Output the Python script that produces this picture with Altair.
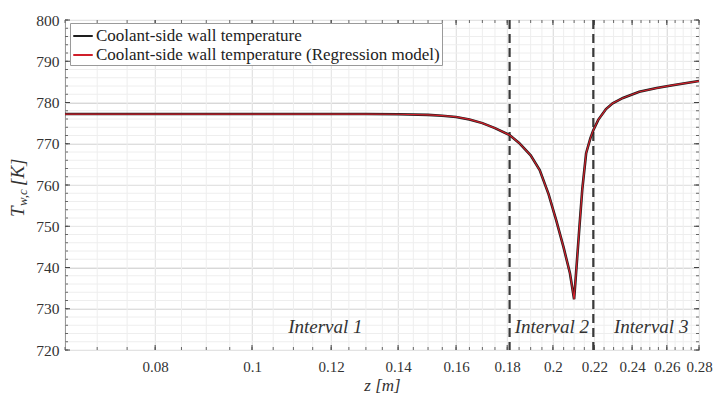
import altair as alt
import pandas as pd

# ---------------- data ----------------
z = [0.065, 0.07, 0.08, 0.09, 0.10, 0.11, 0.12, 0.13, 0.14, 0.15, 0.155, 0.16,
     0.165, 0.17, 0.175, 0.181, 0.185, 0.19, 0.194, 0.198, 0.2015, 0.205, 0.208,
     0.2093, 0.2100, 0.211, 0.2126, 0.214, 0.2159, 0.218, 0.2195, 0.222, 0.226,
     0.2295, 0.235, 0.244, 0.254, 0.2635, 0.28]
t_wall = [777.2, 777.2, 777.2, 777.2, 777.2, 777.2, 777.2, 777.2, 777.15, 777.0, 776.8, 776.5,
          775.9, 775.0, 773.8, 772.1, 770.2, 767.2, 763.6, 757.8, 751.5, 744.8, 738.6,
          734.5, 732.3, 739.0, 749.9, 759.0, 767.7, 771.3, 773.3, 775.8, 778.4,
          779.8, 781.1, 782.6, 783.5, 784.2, 785.2]
t_regression = [777.2, 777.2, 777.2, 777.2, 777.2, 777.2, 777.2, 777.2, 777.15, 777.0, 776.8, 776.5,
                775.9, 775.0, 773.8, 772.1, 770.2, 767.2, 763.6, 757.8, 751.5, 744.8, 738.6,
                734.5, 732.3, 739.0, 749.9, 759.0, 767.7, 771.3, 773.3, 775.8, 778.4,
                779.8, 781.1, 782.6, 783.5, 784.2, 785.2]

series_names = ["Coolant-side wall temperature",
                "Coolant-side wall temperature (Regression model)"]
series_colors = ["#1e1e1e", "#d01f2a"]

interval_bounds = [0.181, 0.2195]
interval_labels = ["Interval 1", "Interval 2", "Interval 3"]
interval_label_z = [0.1184, 0.1995, 0.2508]
interval_label_t = [725.6, 725.6, 725.6]

x_major = [0.08, 0.1, 0.12, 0.14, 0.16, 0.18, 0.2, 0.22, 0.24, 0.26, 0.28]
x_minor = [round(0.065 + 0.005 * i, 3) for i in range(0, 44)]
y_major = [720, 730, 740, 750, 760, 770, 780, 790, 800]
y_minor = [720 + 2 * i for i in range(0, 41)]

W, H = 634, 330
FONT = "Liberation Serif"

df = pd.DataFrame({
    "z": z * 2,
    "T": t_wall + t_regression,
    "series": [series_names[0]] * len(z) + [series_names[1]] * len(z),
})
df_xminor = pd.DataFrame({"z": x_minor})
df_xmajor = pd.DataFrame({"z": x_major})
df_yminor = pd.DataFrame({"T": y_minor})
df_ymajor = pd.DataFrame({"T": y_major})
df_bounds = pd.DataFrame({"z": interval_bounds})
df_labels = pd.DataFrame({"z": interval_label_z, "T": interval_label_t, "label": interval_labels})

xs = alt.Scale(type="log", domain=[0.065, 0.28], nice=False)
ys = alt.Scale(domain=[720, 800], nice=False, zero=False)
cs = alt.Scale(domain=series_names, range=series_colors)

x_axis = alt.Axis(
    values=x_major, format="~g", grid=True, gridColor="#d8d8d8", tickSize=0,
    domain=False, labelFont=FONT, labelFontSize=15, labelColor="#333",
    labelPadding=9, labelFlush=False, labelOverlap=False,
    title="z [m]", titleFont=FONT,
    titleFontSize=17, titleFontStyle="italic", titleFontWeight="normal",
    titleColor="#333", titlePadding=3)
y_axis = alt.Axis(
    values=y_major, grid=True, gridColor="#d8d8d8", tickSize=0, domain=False,
    labelFont=FONT, labelFontSize=15.5, labelColor="#333", labelPadding=6,
    labelFlush=False, title=None)


def X():
    return alt.X("z:Q", scale=xs, axis=x_axis)


def Y():
    return alt.Y("T:Q", scale=ys, axis=y_axis)


minor_vx = alt.Chart(df_xminor).mark_rule(color="#eeeeee", strokeWidth=1).encode(x=X())
minor_hy = alt.Chart(df_yminor).mark_rule(color="#eeeeee", strokeWidth=1).encode(y=Y())

# inward ticks (box style)
tick_bot_major = alt.Chart(df_xmajor).mark_rule(color="#444").encode(
    x=X(), y=alt.value(H), y2=alt.value(H - 5))
tick_top_major = alt.Chart(df_xmajor).mark_rule(color="#444").encode(
    x=X(), y=alt.value(0), y2=alt.value(5))
tick_bot_minor = alt.Chart(df_xminor).mark_rule(color="#666").encode(
    x=X(), y=alt.value(H), y2=alt.value(H - 3))
tick_top_minor = alt.Chart(df_xminor).mark_rule(color="#666").encode(
    x=X(), y=alt.value(0), y2=alt.value(3))
tick_left_major = alt.Chart(df_ymajor).mark_rule(color="#444").encode(
    y=Y(), x=alt.value(0), x2=alt.value(5))
tick_right_major = alt.Chart(df_ymajor).mark_rule(color="#444").encode(
    y=Y(), x=alt.value(W), x2=alt.value(W - 5))
tick_left_minor = alt.Chart(df_yminor).mark_rule(color="#666").encode(
    y=Y(), x=alt.value(0), x2=alt.value(3))
tick_right_minor = alt.Chart(df_yminor).mark_rule(color="#666").encode(
    y=Y(), x=alt.value(W), x2=alt.value(W - 3))

bounds = alt.Chart(df_bounds).mark_rule(color="#3a3a3a", strokeWidth=2.2, strokeDash=[9, 5]).encode(
    x=X())

legend = alt.Legend(
    title=None, orient="none", legendX=5, legendY=3, symbolType="stroke",
    symbolSize=380, symbolStrokeWidth=2, labelFont=FONT, labelFontSize=17,
    labelColor="#222", fillColor="white", strokeColor="#9a9a9a", padding=2,
    rowPadding=0, labelOffset=2, labelLimit=500)

line_black = alt.Chart(df).transform_filter(
    alt.datum.series == series_names[0]).mark_line(strokeWidth=2.6).encode(
    x=X(), y=Y(),
    color=alt.Color("series:N", scale=cs, legend=legend),
    order=alt.Order("z:Q"))
line_red = alt.Chart(df).transform_filter(
    alt.datum.series == series_names[1]).mark_line(strokeWidth=1.2).encode(
    x=X(), y=Y(),
    color=alt.Color("series:N", scale=cs, legend=legend),
    order=alt.Order("z:Q"))

labels = alt.Chart(df_labels).mark_text(
    font=FONT, fontSize=19, fontStyle="italic", color="#333", baseline="middle").encode(
    x=X(), y=Y(), text="label:N")

# y-axis title with subscript
ytitle_T = alt.Chart(df_ymajor.head(1)).mark_text(
    text="T", font=FONT, fontSize=19, fontStyle="italic", color="#333",
    angle=270, align="left", baseline="middle").encode(x=alt.value(-47), y=alt.value(197))
ytitle_sub = alt.Chart(df_ymajor.head(1)).mark_text(
    text="w,c", font=FONT, fontSize=13, fontStyle="italic", color="#333",
    angle=270, align="left", baseline="middle").encode(x=alt.value(-42), y=alt.value(186))
ytitle_unit = alt.Chart(df_ymajor.head(1)).mark_text(
    text="[K]", font=FONT, fontSize=19, fontStyle="italic", color="#333",
    angle=270, align="left", baseline="middle").encode(x=alt.value(-47), y=alt.value(166))

chart = alt.layer(
    minor_vx, minor_hy,
    tick_bot_minor, tick_top_minor, tick_left_minor, tick_right_minor,
    tick_bot_major, tick_top_major, tick_left_major, tick_right_major,
    bounds, line_black, line_red, labels, ytitle_T, ytitle_sub, ytitle_unit,
).properties(
    width=W, height=H,
    autosize=alt.AutoSizeParams(type="none"),
    padding={"left": 65, "top": 20, "right": 14, "bottom": 48},
    background="white",
).configure_view(stroke="#444", strokeWidth=1)

chart.save("out.html", embed_options={"renderer": "svg", "actions": False})
